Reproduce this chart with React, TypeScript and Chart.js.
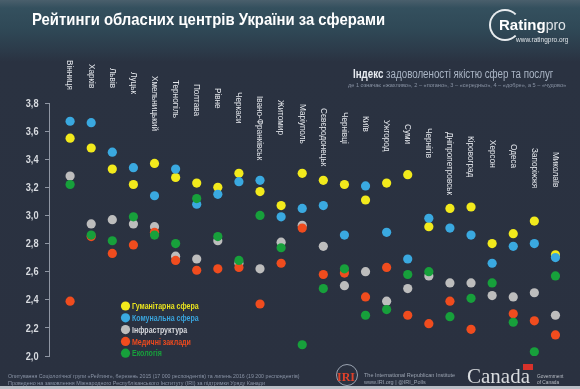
import React, { useEffect, useLayoutEffect, useRef } from 'react';
import { Chart, registerables } from 'chart.js';

Chart.register(...registerables);

const cities = [
  'Вінниця', 'Харків', 'Львів', 'Луцьк', 'Хмельницький', 'Тернопіль', 'Полтава', 'Рівне',
  'Черкаси', 'Івано-Франківськ', 'Житомир', 'Маріуполь', 'Сєвєродонецьк', 'Чернівці', 'Київ',
  'Ужгород', 'Суми', 'Чернігів', 'Дніпропетровськ', 'Кіровоград', 'Херсон', 'Одеса', 'Запоріжжя', 'Миколаїв',
];

const humanitarian = [3.55, 3.48, 3.33, 3.22, 3.37, 3.27, 3.23, 3.20, 3.30, 3.17, 3.07, 3.30, 3.25, 3.22, 3.11, 3.23, 3.29, 2.92, 3.05, 3.06, 2.80, 2.87, 2.96, 2.72];
const communal = [3.67, 3.66, 3.45, 3.34, 3.14, 3.33, 3.08, 3.15, 3.24, 3.25, 2.99, 3.05, 3.07, 2.86, 3.21, 2.88, 2.69, 2.98, 2.91, 2.86, 2.66, 2.78, 2.80, 2.70];
const infrastructure = [3.28, 2.94, 2.97, 2.94, 2.92, 2.71, 2.69, 2.82, 2.66, 2.62, 2.81, 2.93, 2.78, 2.50, 2.60, 2.39, 2.48, 2.57, 2.52, 2.52, 2.43, 2.42, 2.45, 2.29];
const medical = [2.39, 2.85, 2.73, 2.79, 2.88, 2.68, 2.61, 2.62, 2.63, 2.37, 2.66, 2.91, 2.58, 2.59, 2.42, 2.63, 2.29, 2.23, 2.39, 2.19, null, 2.30, 2.25, 2.15];
const ecology = [3.22, 2.86, 2.82, 2.99, 2.86, 2.80, 3.12, 2.85, 2.68, 3.00, 2.77, 2.08, 2.48, 2.62, 2.29, 2.33, 2.58, 2.60, 2.28, 2.41, 2.52, 2.24, 2.03, 2.57];

const seriesNames = ['Гуманітарна сфера', 'Комунальна сфера', 'Інфраструктура', 'Медичні заклади', 'Екологія'];
const seriesValues = [humanitarian, communal, infrastructure, medical, ecology];
const seriesColors = ['#f2ea1c', '#3aa9e0', '#bdbdbd', '#f04c1e', '#17a03b'];
const legendTextColors = ['#e8e21e', '#3aa4dc', '#d6d8dc', '#ee4a1e', '#18a03c'];

const yMin = 2.0;
const yMax = 3.8;
const yStep = 0.2;

const SANS = '"Liberation Sans", Arial, sans-serif';

function fillCondensed(ctx: any, text: string, x: number, y: number, factor: number) {
  ctx.save();
  ctx.translate(x, y);
  ctx.scale(factor, 1);
  ctx.fillText(text, 0, 0);
  ctx.restore();
}

const cityLabelsPlugin = {
  id: 'cityLabels',
  afterDraw(chart: any) {
    const ctx = chart.ctx;
    const xs = chart.scales.x;
    ctx.save();
    ctx.font = `9.5px ${SANS}`;
    ctx.fillStyle = '#e4e7ec';
    ctx.textAlign = 'left';
    ctx.textBaseline = 'middle';
    cities.forEach((c, i) => {
      const x = xs.getPixelForValue(i);
      const y = chart.chartArea.top - 43 + 4 * i;
      ctx.save();
      ctx.translate(x, y);
      ctx.rotate(Math.PI / 2);
      ctx.scale(0.86, 1);
      ctx.fillText(c, 0, 0);
      ctx.restore();
    });
    ctx.restore();
  },
};

const yLabelsPlugin = {
  id: 'yLabels',
  afterDraw(chart: any) {
    const ctx = chart.ctx;
    const ys = chart.scales.y;
    ctx.save();
    ctx.font = `bold 11.5px ${SANS}`;
    ctx.fillStyle = '#d8dbe0';
    ctx.textAlign = 'right';
    ctx.textBaseline = 'middle';
    ys.ticks.forEach((t: any) => {
      const y = ys.getPixelForValue(t.value);
      fillCondensed(ctx, Number(t.value).toFixed(1).replace('.', ','), 38.5, y + 0.5, 0.8);
    });
    ctx.restore();
  },
};

const legendPlugin = {
  id: 'customLegend',
  afterDraw(chart: any) {
    const ctx = chart.ctx;
    const ds = chart.data.datasets;
    ctx.save();
    ctx.font = `bold 9.5px ${SANS}`;
    ctx.textAlign = 'left';
    ctx.textBaseline = 'middle';
    ds.forEach((d: any, k: number) => {
      const cy = 306 + 11.8 * k;
      ctx.beginPath();
      ctx.arc(125.5, cy, 4.6, 0, Math.PI * 2);
      ctx.fillStyle = seriesColors[k];
      ctx.fill();
      ctx.fillStyle = legendTextColors[k];
      fillCondensed(ctx, d.label, 132, cy + 0.5, 0.74);
    });
    ctx.restore();
  },
};

function FitText({ target, style, children }: { target: number; style: any; children: any }) {
  const ref = useRef<HTMLDivElement>(null);
  useLayoutEffect(() => {
    const el = ref.current;
    if (!el) return;
    el.style.transform = 'none';
    const w = el.scrollWidth;
    if (w > 0) el.style.transform = `scaleX(${target / w})`;
  }, [target]);
  return (
    <div
      ref={ref}
      style={{ position: 'absolute', whiteSpace: 'nowrap', transformOrigin: '0 50%', display: 'inline-block', ...style }}
    >
      {children}
    </div>
  );
}

export default function App() {
  const ref = useRef<HTMLCanvasElement>(null);

  useEffect(() => {
    document.body.style.margin = '0';
    document.body.style.background = '#2a3140';
    const chart = new Chart(ref.current as HTMLCanvasElement, {
      type: 'scatter',
      data: {
        datasets: seriesNames.map((name, k) => ({
          label: name,
          data: seriesValues[k].map((v, i) => ({ x: i, y: v as any })),
          backgroundColor: seriesColors[k],
          borderColor: seriesColors[k],
          borderWidth: 0,
          pointRadius: 4.6,
          pointHoverRadius: 4.6,
          order: 5 - k,
        })),
      },
      options: {
        animation: false,
        responsive: false,
        maintainAspectRatio: false,
        events: [],
        layout: { padding: { top: 103, right: 14, bottom: 33, left: 0 } },
        plugins: { legend: { display: false }, tooltip: { enabled: false } },
        scales: {
          x: { type: 'linear', min: -1, max: 23.5, display: false },
          y: {
            min: yMin,
            max: yMax,
            ticks: {
              stepSize: yStep,
              color: 'rgba(0,0,0,0)',
              font: { family: SANS, size: 11, weight: 'bold' },
              padding: 6,
              callback: (v: any) => Number(v).toFixed(1).replace('.', ','),
            },
            grid: { drawOnChartArea: false, drawTicks: true, tickLength: 4, color: '#8f96a3' },
            border: { display: true, color: '#8f96a3', width: 1 },
            afterFit(scale: any) {
              scale.width = 49;
            },
          },
        },
      } as any,
      plugins: [cityLabelsPlugin, yLabelsPlugin, legendPlugin],
    });
    return () => chart.destroy();
  }, []);

  return (
    <div
      style={{
        position: 'relative',
        width: 580,
        height: 389,
        overflow: 'hidden',
        background:
          'linear-gradient(to bottom, #4a5f6c 0px, #34505e 8px, #2f4856 30px, #2c3b4a 50px, #2a3241 62px, #2a3140 100%)',
        fontFamily: SANS,
      }}
    >
      <canvas ref={ref} width={580} height={389} style={{ position: 'absolute', left: 0, top: 0 }} />
      <FitText target={353} style={{ left: 32, top: 10, color: '#ffffff', fontWeight: 'bold', fontSize: 17 }}>
        Рейтинги обласних центрів України за сферами
      </FitText>
      {/* Rating pro logo */}
      <div
        style={{
          position: 'absolute', left: 489, top: 9, width: 32, height: 32, borderRadius: '50%',
          border: '2px solid #e8ecef', borderRightColor: 'transparent', boxSizing: 'border-box',
        }}
      />
      <div style={{ position: 'absolute', left: 499, top: 16, color: '#ffffff', whiteSpace: 'nowrap' }}>
        <span style={{ fontWeight: 'bold', fontSize: 15 }}>Rating</span>
        <span style={{ fontSize: 14, color: '#dfe4e8' }}>pro</span>
      </div>
      <div style={{ position: 'absolute', left: 516, top: 36, color: '#dfe4e8', fontSize: 6.5, whiteSpace: 'nowrap' }}>
        www.ratingpro.org
      </div>
      {/* Index header */}
      <FitText target={200} style={{ left: 353, top: 67, fontSize: 12, color: '#a9b4c4' }}>
        <span style={{ fontWeight: 'bold', color: '#e8ecf2' }}>Індекс</span> задоволеності якістю сфер та послуг
      </FitText>
      <FitText target={218} style={{ left: 348, top: 82, fontSize: 5.5, color: '#8993a4' }}>
        де 1 означає «жахливо», 2 – «погано», 3 – «середньо», 4 – «добре», а 5 – «чудово»
      </FitText>
      {/* Footer */}
      <FitText target={292} style={{ left: 8, top: 373, fontSize: 5.5, color: '#8a94a6' }}>
        Опитування Соціологічної групи «Рейтинг», березень 2015 (17 000 респондентів) та липень 2016 (19 200 респондентів)
      </FitText>
      <FitText target={257} style={{ left: 8, top: 380, fontSize: 5.5, color: '#8a94a6' }}>
        Проведено на замовлення Міжнародного Республіканського Інституту (IRI) за підтримки Уряду Канади
      </FitText>
      <div
        style={{
          position: 'absolute', left: 336, top: 364, width: 22, height: 22, borderRadius: '50%',
          border: '1px solid #9aa3b0', boxSizing: 'border-box',
        }}
      />
      <div
        style={{
          position: 'absolute', left: 337, top: 370, color: '#e0412a', fontWeight: 'bold',
          fontFamily: '"Liberation Serif", serif', fontSize: 12, whiteSpace: 'nowrap',
        }}
      >
        IRI
      </div>
      <div
        style={{
          position: 'absolute', left: 364, top: 372, fontSize: 5.5, lineHeight: '6.5px', color: '#9aa3b0',
          whiteSpace: 'nowrap',
        }}
      >
        <div>The International Republican Institute</div>
        <div>www.IRI.org | @IRI_Polls</div>
      </div>
      <div
        style={{
          position: 'absolute', left: 467, top: 364, color: '#d9dcdf', fontFamily: '"Liberation Serif", serif',
          fontSize: 21, whiteSpace: 'nowrap',
        }}
      >
        Canada
      </div>
      <div style={{ position: 'absolute', left: 523, top: 364, width: 10, height: 6, background: '#d8322b' }} />
      <div
        style={{
          position: 'absolute', left: 537, top: 374, fontSize: 4.8, lineHeight: '5.5px', color: '#b8bdc4',
          whiteSpace: 'nowrap',
        }}
      >
        <div>Government</div>
        <div>of Canada</div>
      </div>
      <div style={{ position: 'absolute', left: 0, top: 386, width: 580, height: 3, background: '#b9bec6' }} />
    </div>
  );
}
